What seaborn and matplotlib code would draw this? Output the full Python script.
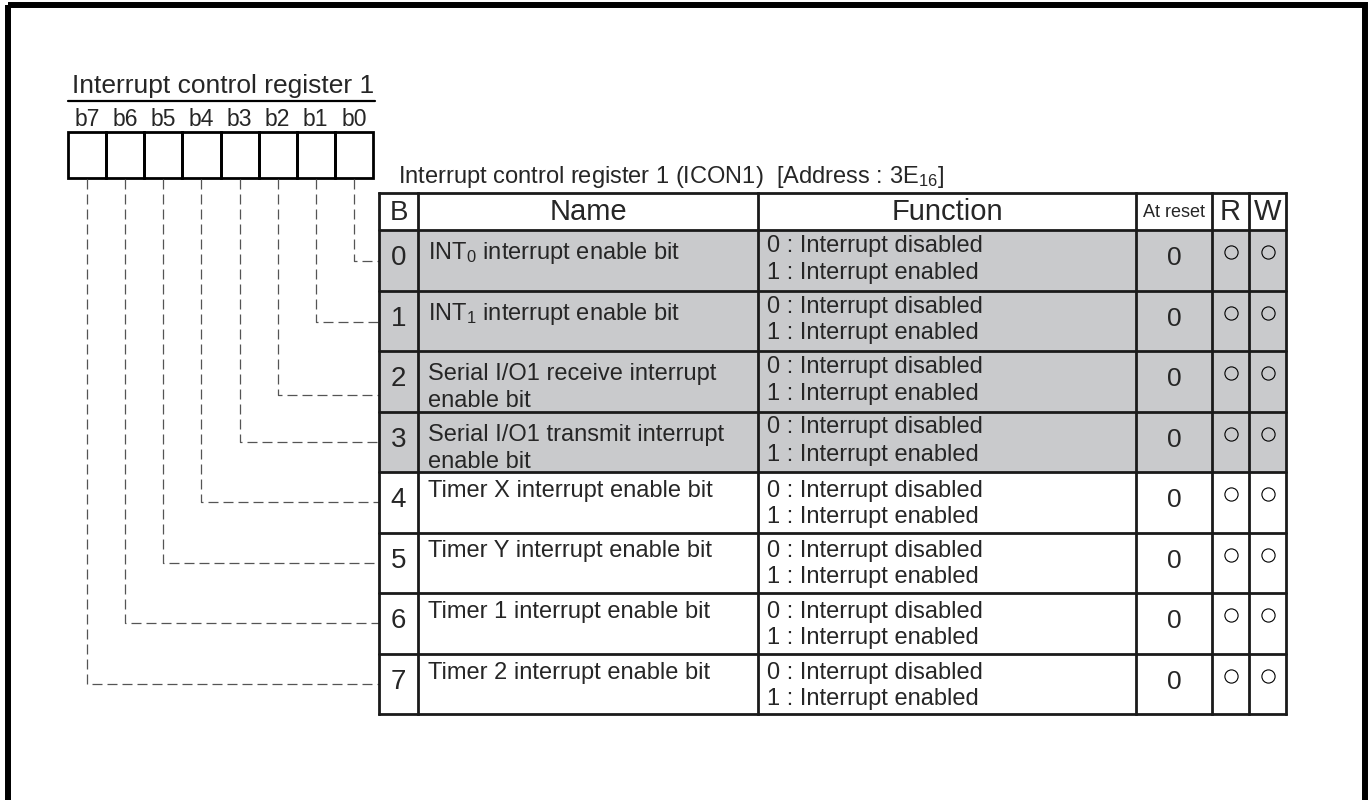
import matplotlib
matplotlib.use("Agg")
import matplotlib.pyplot as plt
import seaborn as sns
from matplotlib.patches import Rectangle

sns.set_theme(style="white")
plt.rcParams['font.family'] = ['Liberation Sans', 'DejaVu Sans']
plt.rcParams['mathtext.fontset'] = 'custom'
plt.rcParams['mathtext.rm'] = 'Liberation Sans'
plt.rcParams['mathtext.it'] = 'Liberation Sans'

# ---------------- data ----------------
register_title = "Interrupt control register 1"
bit_labels = ["b7", "b6", "b5", "b4", "b3", "b2", "b1", "b0"]
table_title = r"Interrupt control register 1 (ICON1)  [Address : 3E$_\mathregular{16}$]"
headers = ["B", "Name", "Function", "At reset", "R", "W"]
bits = [0, 1, 2, 3, 4, 5, 6, 7]
names = [
    [r"INT$_\mathregular{0}$ interrupt enable bit"],
    [r"INT$_\mathregular{1}$ interrupt enable bit"],
    ["Serial I/O1 receive interrupt", "enable bit"],
    ["Serial I/O1 transmit interrupt", "enable bit"],
    ["Timer X interrupt enable bit"],
    ["Timer Y interrupt enable bit"],
    ["Timer 1 interrupt enable bit"],
    ["Timer 2 interrupt enable bit"],
]
functions = [["0 : Interrupt disabled", "1 : Interrupt enabled"]] * 8
reset_values = ["0"] * 8
readable = [True] * 8
writable = [True] * 8
shaded = [True, True, True, True, False, False, False, False]

# ---------------- layout (pixels) ----------------
W, H = 1369, 800
fig = plt.figure(figsize=(W / 100, H / 100), dpi=100)
ax = fig.add_axes([0, 0, 1, 1])
ax.set_xlim(0, W)
ax.set_ylim(H, 0)
ax.axis("off")

# outer frame
ax.add_patch(Rectangle((8, 5), 1356.5, 800, fill=False, lw=4.3, ec="black"))

# register box
box_l, box_r, box_t, box_b = 68, 373, 132, 178
cell_w = (box_r - box_l) / 8
ax.text(box_l + 4, 93, register_title, fontsize=19, ha="left", va="baseline")
ax.plot([box_l, box_r + 2], [101, 101], color="black", lw=1.6)
for i, lab in enumerate(bit_labels):
    cx = box_l + cell_w * (i + 0.5)
    ax.text(cx, 126, lab, fontsize=16.5, ha="center", va="baseline")
    ax.add_patch(Rectangle((box_l + cell_w * i, box_t), cell_w, box_b - box_t,
                           fill=False, lw=2.0, ec="black"))

# table geometry
cols = [379, 418, 758, 1136, 1212, 1249, 1286]
t_top, h_bot, t_bot = 193, 230, 714
row_h = (t_bot - h_bot) / 8
link_dy = [1, 1, 14, 0, 0, 0, 0, 0]

ax.text(398, 183, table_title, fontsize=17, ha="left", va="baseline")

# shading
for r in bits:
    top = h_bot + r * row_h
    if shaded[r]:
        ax.add_patch(Rectangle((cols[0], top), cols[-1] - cols[0], row_h,
                               color="#c9cacc", lw=0, zorder=0))

# grid lines
lw_t = 2.0
for x in cols:
    ax.plot([x, x], [t_top, t_bot], color="#1a1a1a", lw=lw_t, solid_capstyle="projecting")
ax.plot([cols[0], cols[-1]], [t_top, t_top], color="#1a1a1a", lw=lw_t)
ax.plot([cols[0], cols[-1]], [h_bot, h_bot], color="#1a1a1a", lw=lw_t)
for r in bits:
    y = h_bot + (r + 1) * row_h
    ax.plot([cols[0], cols[-1]], [y, y], color="#1a1a1a", lw=lw_t)

# headers
hy = (t_top + h_bot) / 2 + 1
centers = [(cols[i] + cols[i + 1]) / 2 for i in range(6)]
hsizes = [20, 21, 21, 13, 21, 21]
for c, txt, fs in zip(centers, headers, hsizes):
    ax.text(c, hy, txt, fontsize=fs, ha="center", va="center")

# rows
for r in bits:
    top = h_bot + r * row_h
    mid = top + row_h / 2
    off1, off2 = (16, 43) if shaded[r] else (19, 45)
    ax.text(centers[0], mid - 2, str(bits[r]), fontsize=20, ha="center", va="center")
    nm = names[r]
    if len(nm) == 2:
        ax.text(cols[1] + 10, top + off1 + 7, nm[0], fontsize=17, ha="left", va="center")
        ax.text(cols[1] + 10, top + off2 + 7, nm[1], fontsize=17, ha="left", va="center")
    elif shaded[r]:
        ax.text(cols[1] + 10, mid - 7, nm[0], fontsize=17, ha="left", va="center")
    else:
        ax.text(cols[1] + 10, top + off1, nm[0], fontsize=17, ha="left", va="center")
    ax.text(cols[2] + 9, top + off1, functions[r][0], fontsize=17, ha="left", va="center")
    ax.text(cols[2] + 9, top + off2, functions[r][1], fontsize=17, ha="left", va="center")
    ax.text(centers[3], mid - 2, reset_values[r], fontsize=19, ha="center", va="center")
    if readable[r]:
        ax.plot(centers[4], mid - 8, marker="o", ms=9.5, mfc="none", mec="black", mew=0.8)
    if writable[r]:
        ax.plot(centers[5], mid - 8, marker="o", ms=9.5, mfc="none", mec="black", mew=0.8)
    # connector
    cx = box_l + cell_w * (7 - r + 0.5)
    ly = mid + link_dy[r]
    ax.plot([cx, cx, cols[0]], [box_b + 1, ly, ly], color="#555555", lw=0.9,
            dashes=(8, 4), zorder=1)

fig.savefig("out.png", dpi=100)
